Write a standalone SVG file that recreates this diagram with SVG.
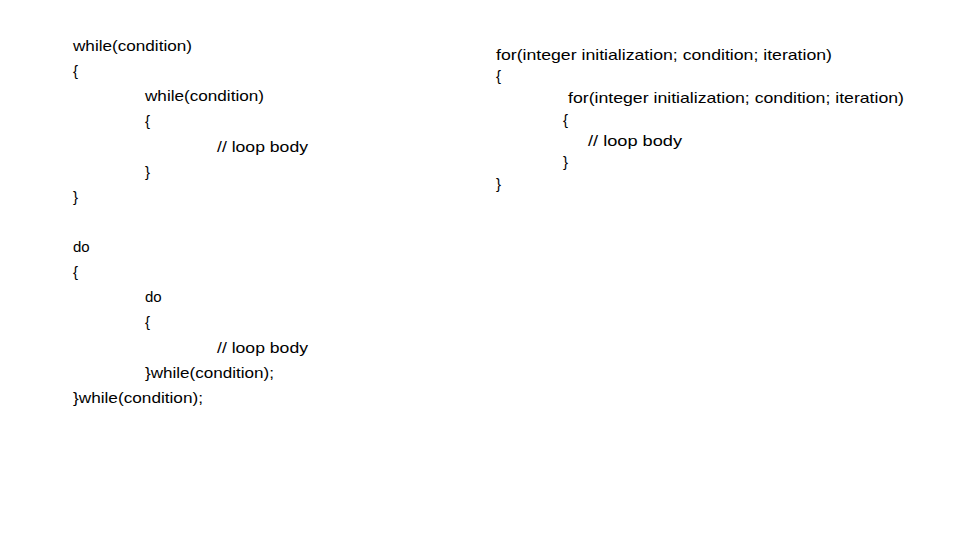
<svg xmlns="http://www.w3.org/2000/svg" width="960" height="540" viewBox="0 0 960 540">
<style>text{font-family:"Liberation Sans","Noto Sans",sans-serif;font-size:15px;fill:#000}</style>
<rect width="960" height="540" fill="#fff"/>
<g id="while-loops">
<text x="73" y="51" textLength="119" lengthAdjust="spacingAndGlyphs">while(condition)</text>
<text x="73" y="76">{</text>
<text x="145" y="101" textLength="119" lengthAdjust="spacingAndGlyphs">while(condition)</text>
<text x="145" y="126">{</text>
<text x="217" y="152" textLength="91" lengthAdjust="spacingAndGlyphs">// loop body</text>
<text x="145" y="177">}</text>
<text x="73" y="202">}</text>
</g>
<g id="do-loops">
<text x="73" y="252">do</text>
<text x="73" y="277">{</text>
<text x="145" y="302">do</text>
<text x="145" y="327">{</text>
<text x="217" y="353" textLength="91" lengthAdjust="spacingAndGlyphs">// loop body</text>
<text x="145" y="378" textLength="129" lengthAdjust="spacingAndGlyphs">}while(condition);</text>
<text x="73" y="403" textLength="130" lengthAdjust="spacingAndGlyphs">}while(condition);</text>
</g>
<g id="for-loops">
<text x="496" y="60" textLength="336" lengthAdjust="spacingAndGlyphs">for(integer initialization; condition; iteration)</text>
<text x="496" y="81">{</text>
<text x="568" y="103" textLength="336" lengthAdjust="spacingAndGlyphs">for(integer initialization; condition; iteration)</text>
<text x="563" y="125">{</text>
<text x="588" y="146" textLength="94" lengthAdjust="spacingAndGlyphs">// loop body</text>
<text x="563" y="167">}</text>
<text x="496" y="189">}</text>
</g>
<g id="connectors"/>
</svg>
